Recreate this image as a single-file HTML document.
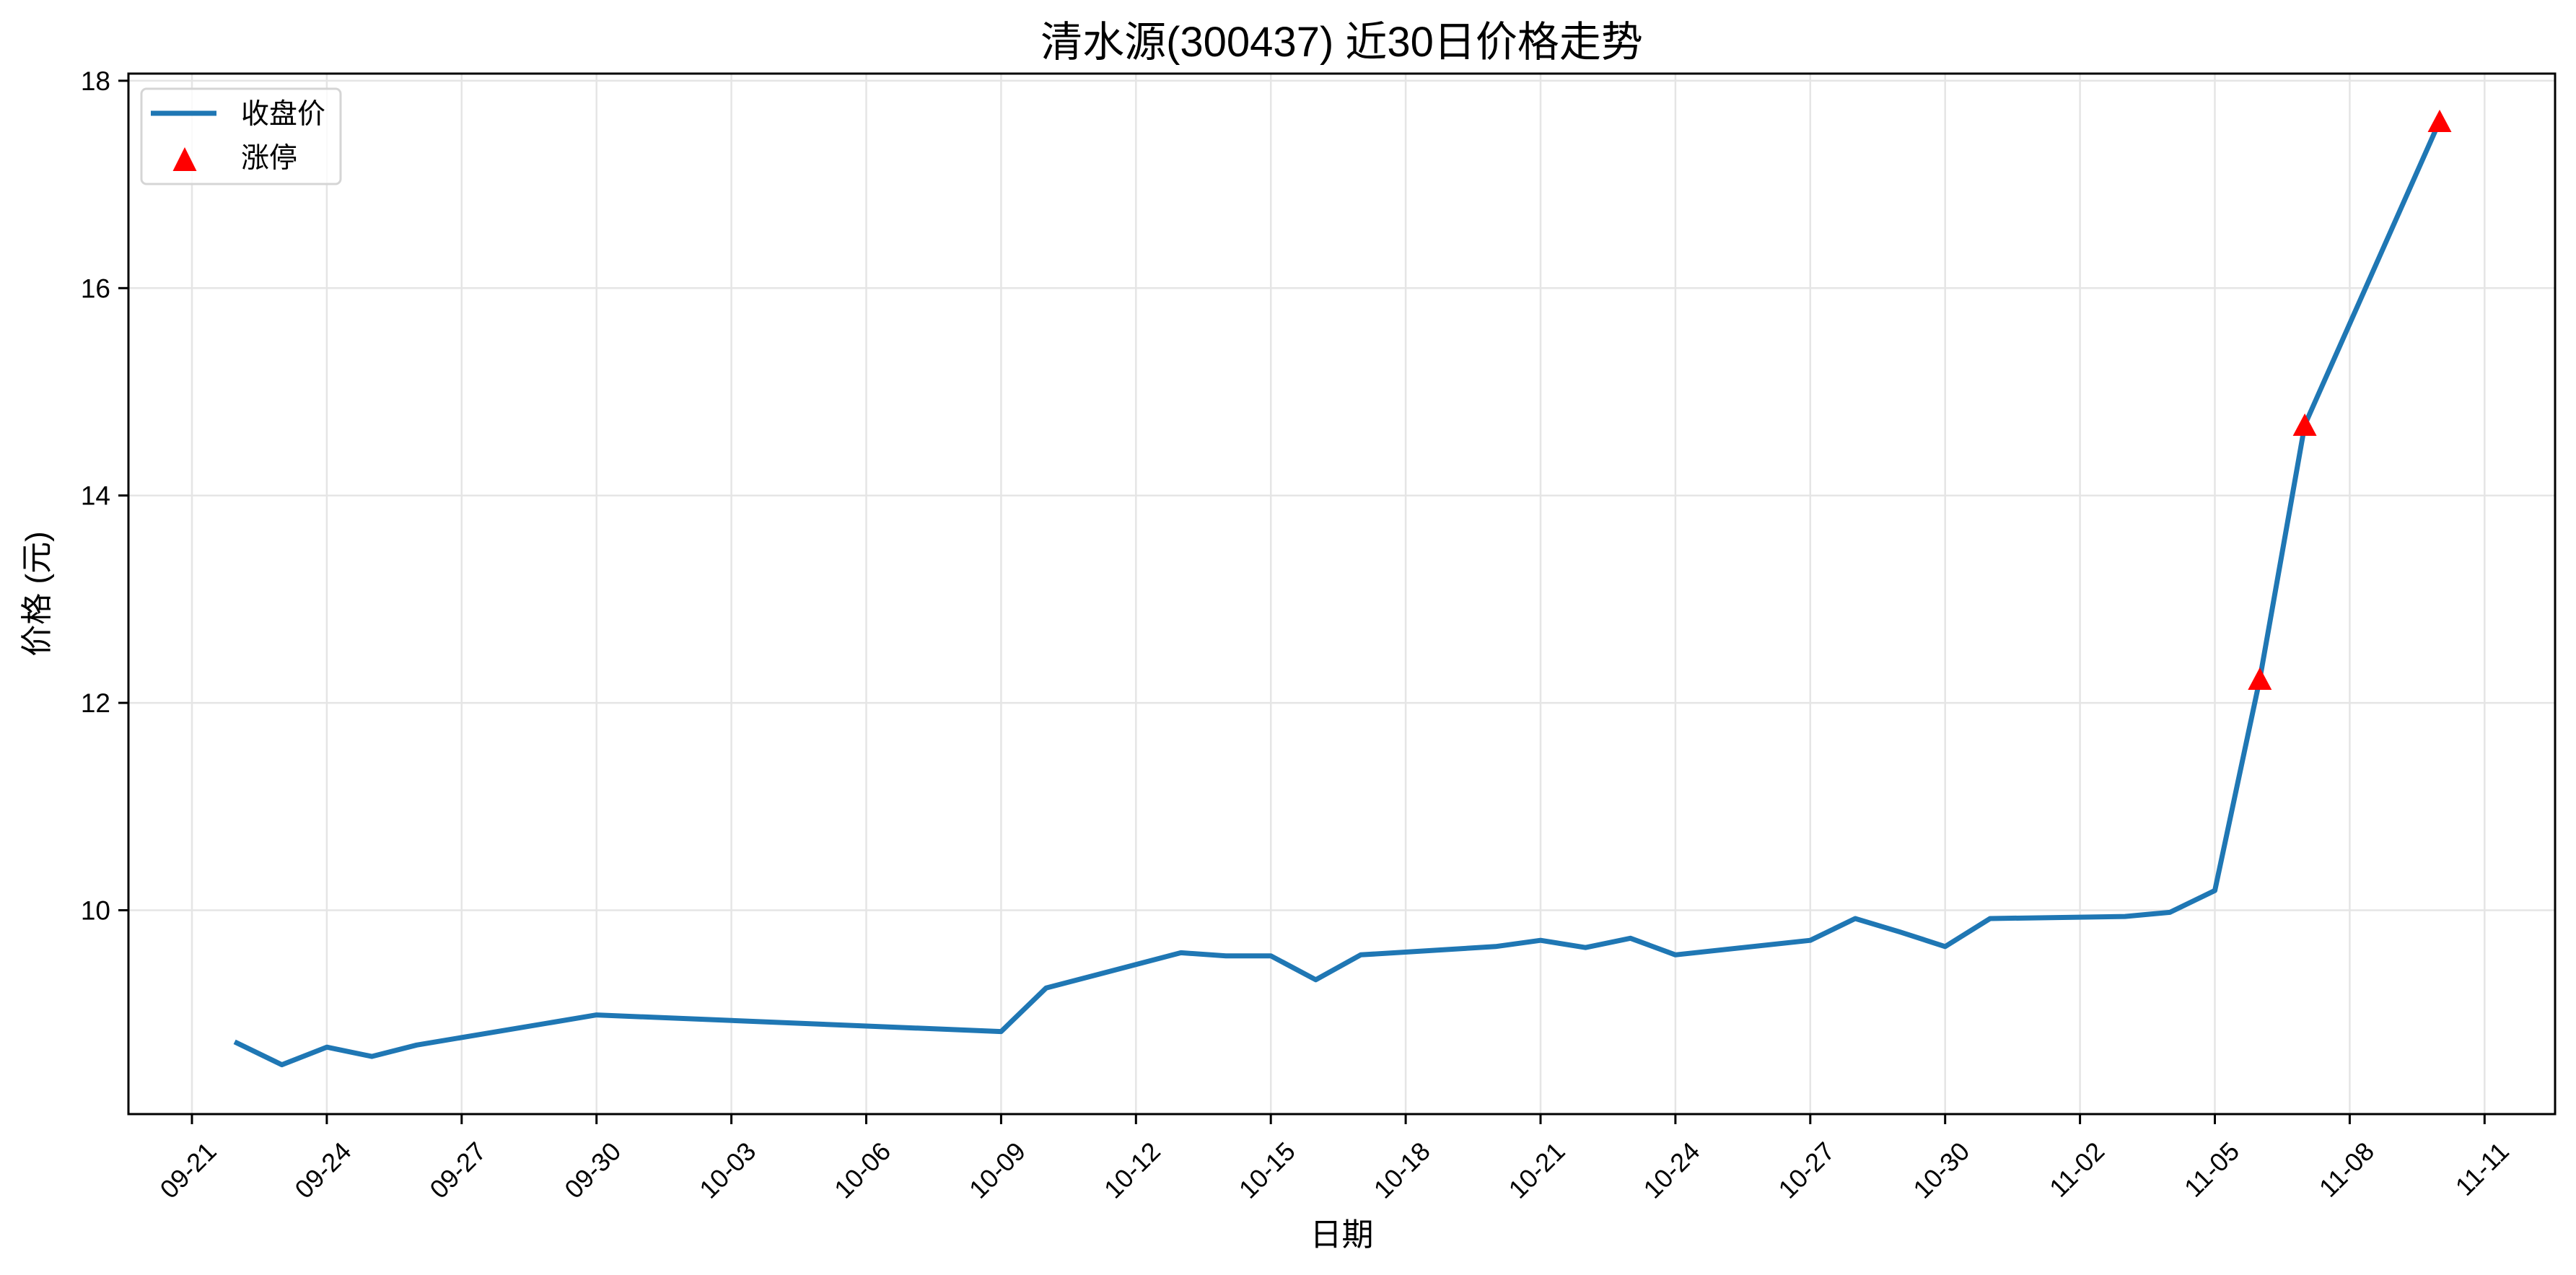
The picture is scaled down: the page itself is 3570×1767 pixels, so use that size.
<!DOCTYPE html>
<html><head><meta charset="utf-8"><style>
html,body{margin:0;padding:0;background:#fff;}
svg{display:block;font-family:"Liberation Sans","Noto Sans CJK SC",sans-serif;}
</style></head><body>
<svg width="3570" height="1767" viewBox="0 0 3570 1767" xmlns="http://www.w3.org/2000/svg">
<rect width="3570" height="1767" fill="#fff"/>
<g stroke="#e5e5e5" stroke-width="2.5">
<line x1="266" y1="102" x2="266" y2="1544"/><line x1="452.9" y1="102" x2="452.9" y2="1544"/><line x1="639.8" y1="102" x2="639.8" y2="1544"/><line x1="826.7" y1="102" x2="826.7" y2="1544"/><line x1="1013.6" y1="102" x2="1013.6" y2="1544"/><line x1="1200.5" y1="102" x2="1200.5" y2="1544"/><line x1="1387.4" y1="102" x2="1387.4" y2="1544"/><line x1="1574.3" y1="102" x2="1574.3" y2="1544"/><line x1="1761.2" y1="102" x2="1761.2" y2="1544"/><line x1="1948.1" y1="102" x2="1948.1" y2="1544"/><line x1="2135" y1="102" x2="2135" y2="1544"/><line x1="2321.9" y1="102" x2="2321.9" y2="1544"/><line x1="2508.8" y1="102" x2="2508.8" y2="1544"/><line x1="2695.7" y1="102" x2="2695.7" y2="1544"/><line x1="2882.6" y1="102" x2="2882.6" y2="1544"/><line x1="3069.5" y1="102" x2="3069.5" y2="1544"/><line x1="3256.4" y1="102" x2="3256.4" y2="1544"/><line x1="3443.3" y1="102" x2="3443.3" y2="1544"/>
<line x1="178" y1="1261.5" x2="3541" y2="1261.5"/><line x1="178" y1="974.1" x2="3541" y2="974.1"/><line x1="178" y1="686.7" x2="3541" y2="686.7"/><line x1="178" y1="399.3" x2="3541" y2="399.3"/><line x1="178" y1="111.9" x2="3541" y2="111.9"/>
</g>
<polyline fill="none" stroke="#1f77b4" stroke-width="7" stroke-linejoin="round" stroke-linecap="square" points="328.3,1445.4 390.6,1475.6 452.9,1451.2 515.2,1464.1 577.5,1448.3 826.7,1406.6 1387.4,1429.6 1449.7,1369.3 1636.6,1320.4 1698.9,1324.7 1761.2,1324.7 1823.5,1357.8 1885.8,1323.3 2072.7,1311.8 2135,1303.2 2197.3,1313.2 2259.6,1300.3 2321.9,1323.3 2508.8,1303.2 2571.1,1273 2633.4,1291.7 2695.7,1311.8 2758,1273 2944.9,1270.1 3007.2,1264.4 3069.5,1234.2 3131.8,941 3194.1,589 3381,167.9"/>
<g fill="#ff0000">
<polygon points="3131.8,925 3115.3,956 3148.3,956"/>
<polygon points="3194.1,573 3177.6,604 3210.6,604"/>
<polygon points="3381,152 3364.5,183 3397.5,183"/>
</g>
<rect x="178" y="102" width="3363" height="1442" fill="none" stroke="#000" stroke-width="3"/>
<g stroke="#000" stroke-width="3">
<line x1="266" y1="1544" x2="266" y2="1558"/><line x1="452.9" y1="1544" x2="452.9" y2="1558"/><line x1="639.8" y1="1544" x2="639.8" y2="1558"/><line x1="826.7" y1="1544" x2="826.7" y2="1558"/><line x1="1013.6" y1="1544" x2="1013.6" y2="1558"/><line x1="1200.5" y1="1544" x2="1200.5" y2="1558"/><line x1="1387.4" y1="1544" x2="1387.4" y2="1558"/><line x1="1574.3" y1="1544" x2="1574.3" y2="1558"/><line x1="1761.2" y1="1544" x2="1761.2" y2="1558"/><line x1="1948.1" y1="1544" x2="1948.1" y2="1558"/><line x1="2135" y1="1544" x2="2135" y2="1558"/><line x1="2321.9" y1="1544" x2="2321.9" y2="1558"/><line x1="2508.8" y1="1544" x2="2508.8" y2="1558"/><line x1="2695.7" y1="1544" x2="2695.7" y2="1558"/><line x1="2882.6" y1="1544" x2="2882.6" y2="1558"/><line x1="3069.5" y1="1544" x2="3069.5" y2="1558"/><line x1="3256.4" y1="1544" x2="3256.4" y2="1558"/><line x1="3443.3" y1="1544" x2="3443.3" y2="1558"/>
<line x1="164" y1="1261.5" x2="178" y2="1261.5"/><line x1="164" y1="974.1" x2="178" y2="974.1"/><line x1="164" y1="686.7" x2="178" y2="686.7"/><line x1="164" y1="399.3" x2="178" y2="399.3"/><line x1="164" y1="111.9" x2="178" y2="111.9"/>
</g>
<g font-size="37" text-anchor="end" fill="#000">
<text x="153" y="1274.5">10</text><text x="153" y="987.1">12</text><text x="153" y="699.7">14</text><text x="153" y="412.3">16</text><text x="153" y="124.9">18</text>
</g>
<g font-size="36" text-anchor="end" fill="#000">
<text transform="translate(302,1598) rotate(-45)">09-21</text>
<text transform="translate(488.9,1598) rotate(-45)">09-24</text>
<text transform="translate(675.8,1598) rotate(-45)">09-27</text>
<text transform="translate(862.7,1598) rotate(-45)">09-30</text>
<text transform="translate(1049.6,1598) rotate(-45)">10-03</text>
<text transform="translate(1236.5,1598) rotate(-45)">10-06</text>
<text transform="translate(1423.4,1598) rotate(-45)">10-09</text>
<text transform="translate(1610.3,1598) rotate(-45)">10-12</text>
<text transform="translate(1797.2,1598) rotate(-45)">10-15</text>
<text transform="translate(1984.1,1598) rotate(-45)">10-18</text>
<text transform="translate(2171,1598) rotate(-45)">10-21</text>
<text transform="translate(2357.9,1598) rotate(-45)">10-24</text>
<text transform="translate(2544.8,1598) rotate(-45)">10-27</text>
<text transform="translate(2731.7,1598) rotate(-45)">10-30</text>
<text transform="translate(2918.6,1598) rotate(-45)">11-02</text>
<text transform="translate(3105.5,1598) rotate(-45)">11-05</text>
<text transform="translate(3292.4,1598) rotate(-45)">11-08</text>
<text transform="translate(3479.3,1598) rotate(-45)">11-11</text>
</g>
<text x="1859.5" y="78" font-size="58" text-anchor="middle">清水源(300437) 近30日价格走势</text>
<text x="1859.5" y="1726" font-size="44" text-anchor="middle">日期</text>
<text transform="translate(66,823) rotate(-90)" font-size="44" text-anchor="middle">价格 (元)</text>
<rect x="196" y="123" width="276" height="132" rx="7" fill="#fff" fill-opacity="0.8" stroke="#d5d5d5" stroke-width="3"/>
<line x1="209" y1="157" x2="300" y2="157" stroke="#1f77b4" stroke-width="7"/>
<text x="334" y="171" font-size="39">收盘价</text>
<polygon points="256,204 239.5,237 272.5,237" fill="#f00"/>
<text x="334" y="232" font-size="39">涨停</text>
</svg>
</body></html>
